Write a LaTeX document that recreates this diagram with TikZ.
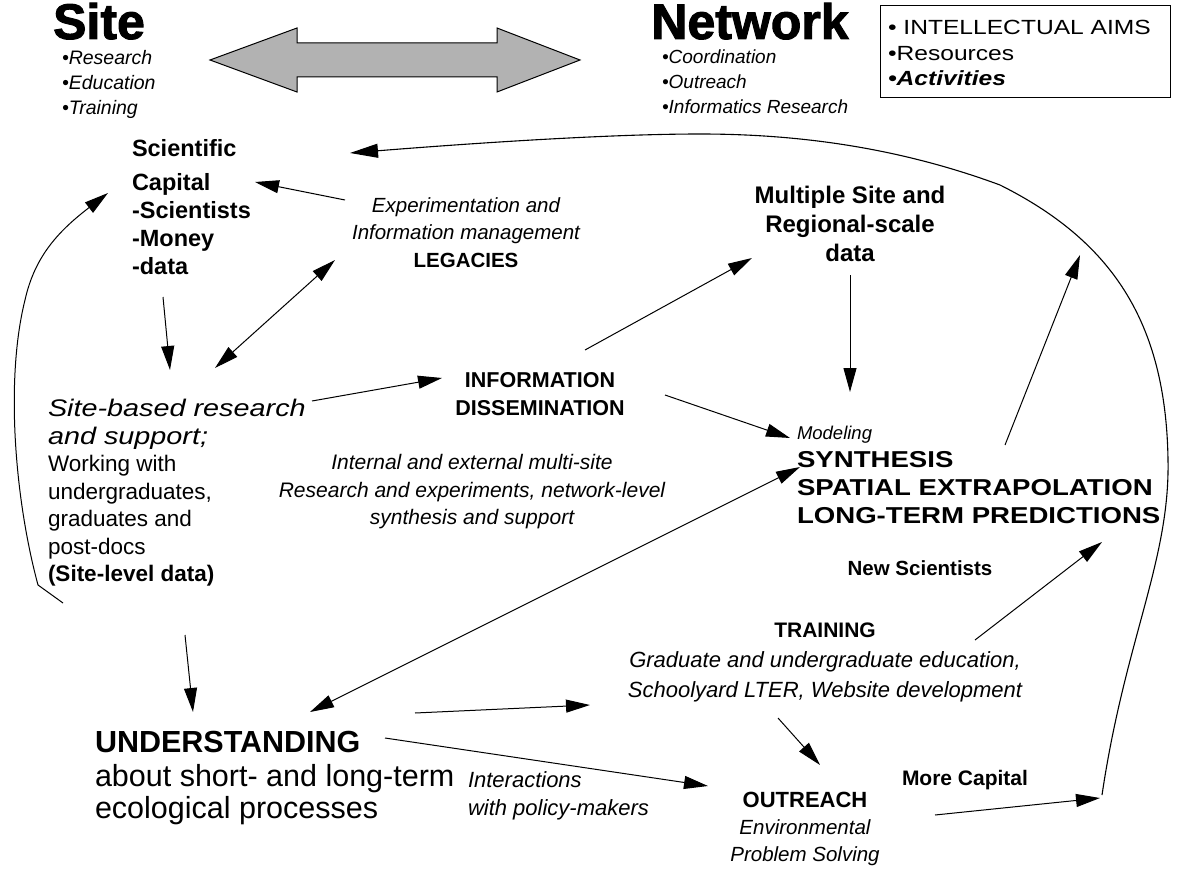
\documentclass[tikz,border=0pt]{standalone}
\usepackage{fontspec}
\setmainfont{Liberation Sans}
\newfontfamily\heavyfont[BoldFeatures={FakeBold=2}]{Liberation Sans}
\newfontfamily\widefont[FakeStretch=1.2]{Liberation Sans}
\usetikzlibrary{arrows.meta}
\tikzset{
  lbl/.style={inner sep=0pt, outer sep=0pt},
  arr/.style={-{Triangle[length=24pt,width=13pt]}, line width=1pt},
  darr/.style={{Triangle[length=24pt,width=13pt]}-{Triangle[length=24pt,width=13pt]}, line width=1pt},
  bigarr/.style={-{Triangle[length=28pt,width=14pt]}, line width=1.1pt},
  fatarrow/.style={draw=black, line width=1pt, fill=black!30},
  legendbox/.style={draw=black, line width=0.8pt},
}
\begin{document}
\begin{tikzpicture}[x=1pt,y=-1pt]
\useasboundingbox (0,0) rectangle (1180,869);

% ---------- header ----------
\node[lbl, anchor=base] (site) at (99,39) {\heavyfont\bfseries\fontsize{50}{50}\selectfont Site};
\node[lbl, anchor=north west, align=left, font=\fontsize{19.5}{25}\selectfont\itshape] (sitelist) at (62,50)
  {•Research\\•Education\\•Training};

\node[lbl, anchor=base] (network) at (750,39) {\heavyfont\bfseries\fontsize{50}{50}\selectfont Network};
\node[lbl, anchor=north west, align=left, font=\fontsize{19}{25}\selectfont\itshape] (netlist) at (662,50)
  {•Coordination\\•Outreach\\•Informatics Research};

\draw[fatarrow] (210,60) -- (297,28) -- (297,43) -- (497,43) -- (497,28) -- (580,60)
  -- (497,92) -- (497,77) -- (297,77) -- (297,92) -- cycle;

\node[legendbox, minimum width=290pt, minimum height=92pt, anchor=north west, inner sep=0pt] (legend) at (880,5) {};
\node[lbl, anchor=north west, align=left, font=\widefont\fontsize{20.5}{25.5}\selectfont] (legendtext) at (888,20.5)
  {• INTELLECTUAL AIMS\\•Resources\\{\bfseries\itshape •Activities}};

% ---------- text blocks ----------
\node[lbl, anchor=north west, align=left, font=\bfseries\fontsize{23.5}{28}\selectfont] (capital) at (132,139.5)
  {Scientific\\[6pt]Capital\\-Scientists\\-Money\\-data};

\node[lbl, anchor=north, align=center, font=\fontsize{20.5}{27.5}\selectfont] (legacies) at (466,197.5)
  {{\itshape Experimentation and}\\{\itshape Information management}\\{\bfseries LEGACIES}};

\node[lbl, anchor=north, align=center, font=\bfseries\fontsize{24}{29}\selectfont] (multi) at (850,186.5)
  {Multiple Site and\\Regional-scale\\data};

\node[lbl, anchor=north, align=center, font=\bfseries\fontsize{21.5}{28}\selectfont] (info) at (540,372)
  {INFORMATION\\DISSEMINATION};

\node[lbl, anchor=north west, align=left, font=\fontsize{22.5}{27.5}\selectfont] (sitebased) at (48,399.5)
  {{\widefont\itshape\fontsize{24}{27.5}\selectfont Site-based research}\\{\widefont\itshape\fontsize{24}{27.5}\selectfont and support;}\\Working with\\undergraduates,\\graduates and\\post-docs\\{\bfseries (Site-level data)}};

\node[lbl, anchor=north, align=center, font=\itshape\fontsize{21}{27.5}\selectfont] (internal) at (472,454.5)
  {Internal and external multi-site\\Research and experiments, network-level\\synthesis and support};

\node[lbl, anchor=north west, align=left, font=\widefont\bfseries\fontsize{23}{28}\selectfont] (synth) at (797,426.5)
  {{\normalfont\itshape\fontsize{18.5}{28}\selectfont Modeling}\\SYNTHESIS\\SPATIAL EXTRAPOLATION\\LONG-TERM PREDICTIONS};

\node[lbl, font=\bfseries\fontsize{20.5}{24}\selectfont] (newsci) at (920,568) {New Scientists};

\node[lbl, anchor=north, align=center, font=\itshape\fontsize{22}{30}\selectfont] (training) at (825,622.5)
  {{\upshape\bfseries\fontsize{21}{30}\selectfont TRAINING}\\Graduate and undergraduate education,\\Schoolyard LTER, Website development};

\node[lbl, anchor=north west, align=left, font=\fontsize{30.5}{34}\selectfont] (understanding) at (95,731)
  {{\bfseries UNDERSTANDING}\\about short- and long-term\\[-2pt]ecological processes};

\node[lbl, anchor=north west, align=left, font=\itshape\fontsize{22}{28}\selectfont] (interact) at (468,772)
  {Interactions\\with policy-makers};

\node[lbl, anchor=north, align=center, font=\itshape\fontsize{20.5}{27}\selectfont] (outreach) at (805,792.5)
  {{\upshape\bfseries\fontsize{22}{27}\selectfont OUTREACH}\\Environmental\\Problem Solving};

\node[lbl, font=\bfseries\fontsize{21}{24}\selectfont] (morecap) at (965,780) {More Capital};

% ---------- connector end points ----------
\coordinate (loopS) at (1102,795);
\coordinate (loopE) at (350,153);
\coordinate (legS) at (345,200);   \coordinate (capE) at (255,182);
\coordinate (capS) at (163,297);   \coordinate (sbE) at (170,370);
\coordinate (sbL) at (215,368);    \coordinate (legL) at (335,260);
\coordinate (sbS) at (312,401);    \coordinate (infoE) at (442,378);
\coordinate (infoS) at (585,350);  \coordinate (multiE) at (752,258);
\coordinate (multiS) at (850,275); \coordinate (synE) at (850,392);
\coordinate (infoS2) at (665,395); \coordinate (synE2) at (790,438);
\coordinate (undT) at (310,712);   \coordinate (synT) at (800,467);
\coordinate (synS) at (1005,445);  \coordinate (loopT) at (1080,255);
\coordinate (trS) at (975,640);    \coordinate (synE3) at (1102,542);
\coordinate (leftS) at (63,603);   \coordinate (leftK) at (38,585);  \coordinate (capE2) at (108,193);
\coordinate (sdS) at (185,635);    \coordinate (undE) at (193,712);
\coordinate (undS) at (415,713);   \coordinate (trE) at (590,705);
\coordinate (undS2) at (385,738);  \coordinate (outE) at (708,786);
\coordinate (trS2) at (778,718);   \coordinate (outE2) at (820,765);
\coordinate (outS) at (935,815);   \coordinate (mcE) at (1100,798);

% ---------- connectors ----------
\draw[bigarr] (loopS) .. controls (1125,640) and (1170,560) .. (1168,460)
  .. controls (1166,320) and (1110,240) .. (1000,185)
  .. controls (900,148) and (800,134) .. (700,134)
  .. controls (600,134) and (450,145) .. (loopE);
\draw[arr] (legS) -- (capE);
\draw[arr] (capS) -- (sbE);
\draw[darr] (sbL) -- (legL);
\draw[arr] (sbS) -- (infoE);
\draw[arr] (infoS) -- (multiE);
\draw[arr] (multiS) -- (synE);
\draw[arr] (infoS2) -- (synE2);
\draw[darr] (undT) -- (synT);
\draw[arr] (synS) -- (loopT);
\draw[arr] (trS) -- (synE3);
\draw[arr] (leftS) -- (leftK) .. controls (15,500) and (5,380) .. (25,300)
  .. controls (35,255) and (60,230) .. (capE2);
\draw[arr] (sdS) -- (undE);
\draw[arr] (undS) -- (trE);
\draw[arr] (undS2) -- (outE);
\draw[arr] (trS2) -- (outE2);
\draw[arr] (outS) -- (mcE);
\end{tikzpicture}
\end{document}
